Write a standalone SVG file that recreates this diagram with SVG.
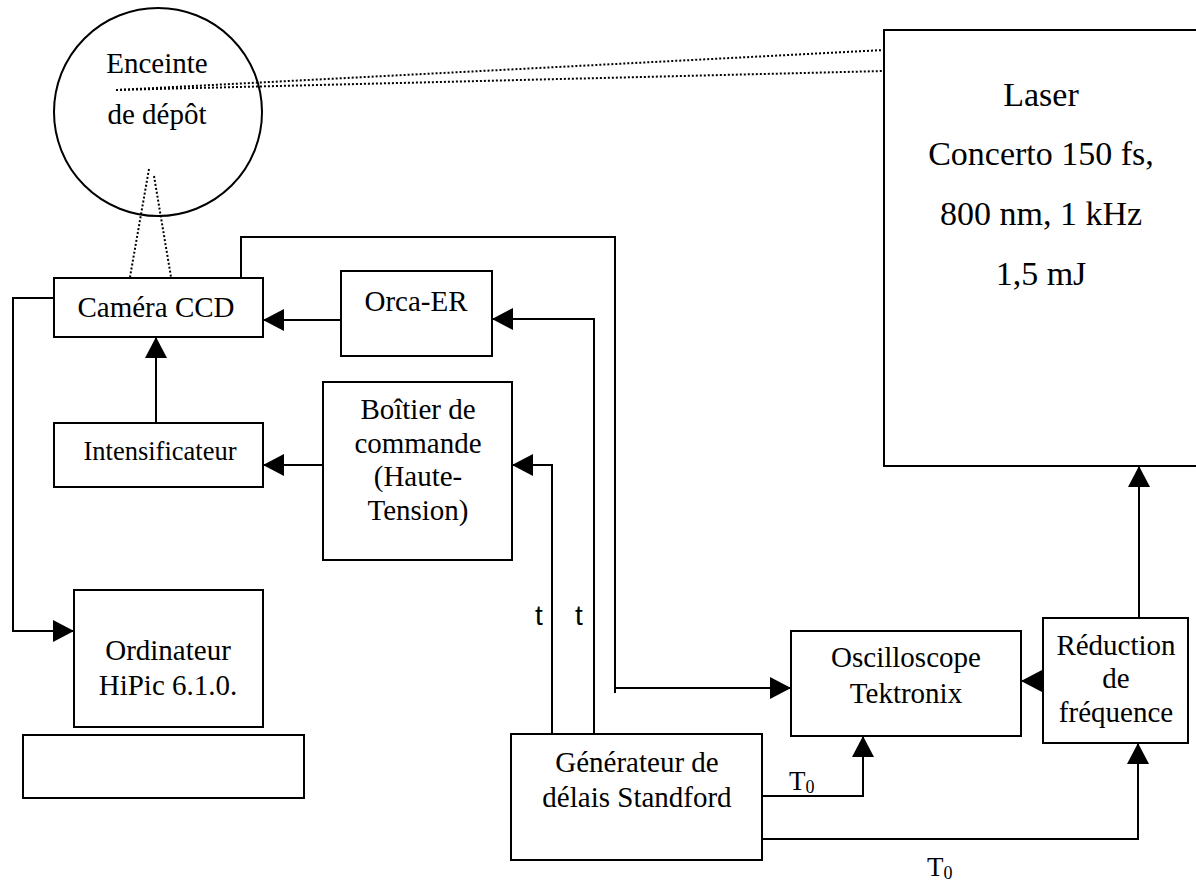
<svg xmlns="http://www.w3.org/2000/svg" width="1196" height="883" viewBox="0 0 1196 883">
<defs>
<marker id="ah" markerUnits="userSpaceOnUse" markerWidth="22" markerHeight="22" viewBox="0 0 21 22" refX="21" refY="11" orient="auto">
<path d="M0,0 L21,11 L0,22 z" fill="#000"/>
</marker>
<style>
.box{fill:#fff;stroke:#000;stroke-width:2}
.ln{fill:none;stroke:#000;stroke-width:2}
.dot{fill:none;stroke:#000;stroke-width:2;stroke-dasharray:2 2}
text{font-family:"Liberation Serif","Times New Roman",serif;font-size:29px;fill:#000;text-anchor:middle}
.big{font-size:34px}
.sm{font-size:26.5px}
.t{font-family:"Liberation Sans",Arial,sans-serif;font-size:28px}
.tz{font-size:27px;text-anchor:start}
.sub{font-size:18px}
</style>
</defs>
<rect width="1196" height="883" fill="#fff"/>

<g id="connectors">
<line class="dot" x1="116" y1="90" x2="884" y2="50"/>
<line class="dot" x1="116" y1="90" x2="884" y2="71"/>
<line class="dot" x1="149" y1="169" x2="130" y2="277"/>
<line class="dot" x1="154" y1="176" x2="171" y2="277"/>
<polyline class="ln" points="345,320 263,320" marker-end="url(#ah)"/>
<polyline class="ln" points="594,734 594,319 492,319" marker-end="url(#ah)"/>
<polyline class="ln" points="552,734 552,465 512,465" marker-end="url(#ah)"/>
<polyline class="ln" points="323,465 263,465" marker-end="url(#ah)"/>
<polyline class="ln" points="156,423 156,337" marker-end="url(#ah)"/>
<polyline class="ln" points="54,298 13,298 13,631 74,631" marker-end="url(#ah)"/>
<polyline class="ln" points="241,278 241,237 615,237 615,693"/>
<polyline class="ln" points="615,688 791,688" marker-end="url(#ah)"/>
<polyline class="ln" points="1043,681 1021,681" marker-end="url(#ah)"/>
<polyline class="ln" points="1139,618 1139,466" marker-end="url(#ah)"/>
<polyline class="ln" points="760,796 863,796 863,736" marker-end="url(#ah)"/>
<polyline class="ln" points="760,839 1138,839 1138,743" marker-end="url(#ah)"/>
<text class="t" x="539" y="625">t</text>
<text class="t" x="579" y="625">t</text>
<text class="tz" x="789" y="790">T<tspan class="sub" dy="3">0</tspan></text>
<text class="tz" x="927" y="876">T<tspan class="sub" dy="3">0</tspan></text>
</g>

<g id="enceinte">
<circle cx="158" cy="112" r="104" fill="none" stroke="#000" stroke-width="2"/>
<text x="157" y="73">Enceinte</text>
<text x="157" y="124">de dépôt</text>
</g>

<g id="laser">
<rect class="box" x="884" y="30" width="330" height="436"/>
<text class="big" x="1041" y="106">Laser</text>
<text class="big" x="1041" y="165">Concerto 150 fs,</text>
<text class="big" x="1041" y="225">800 nm, 1 kHz</text>
<text class="big" x="1041" y="285">1,5 mJ</text>
</g>

<g id="camera">
<rect class="box" x="54" y="278" width="209" height="59"/>
<text x="156" y="317">Caméra CCD</text>
</g>

<g id="orca">
<rect class="box" x="341" y="271" width="151" height="85"/>
<text x="416" y="311">Orca-ER</text>
</g>

<g id="intensificateur">
<rect class="box" x="54" y="423" width="209" height="64"/>
<text class="sm" x="160" y="460">Intensificateur</text>
</g>

<g id="boitier">
<rect class="box" x="323" y="382" width="189" height="178"/>
<text x="418" y="419">Boîtier de</text>
<text x="418" y="453">commande</text>
<text x="418" y="486">(Haute-</text>
<text x="418" y="520">Tension)</text>
</g>

<g id="ordinateur">
<rect class="box" x="74" y="590" width="189" height="137"/>
<text x="168" y="660">Ordinateur</text>
<text x="168" y="695">HiPic 6.1.0.</text>
</g>

<g id="clavier">
<rect class="box" x="23" y="735" width="281" height="63"/>
</g>

<g id="generateur">
<rect class="box" x="511" y="734" width="251" height="126"/>
<text x="637" y="772">Générateur de</text>
<text x="637" y="807">délais Standford</text>
</g>

<g id="oscilloscope">
<rect class="box" x="791" y="631" width="230" height="105"/>
<text x="906" y="667">Oscilloscope</text>
<text x="906" y="703">Tektronix</text>
</g>

<g id="reduction">
<rect class="box" x="1043" y="618" width="145" height="125"/>
<text x="1116" y="655">Réduction</text>
<text x="1116" y="688">de</text>
<text x="1116" y="722">fréquence</text>
</g>
</svg>
